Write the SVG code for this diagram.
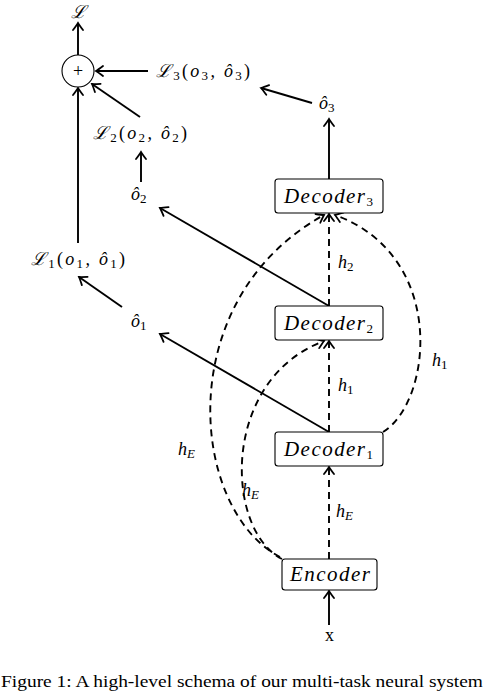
<svg xmlns="http://www.w3.org/2000/svg" width="484" height="694" viewBox="0 0 484 694">
<defs>
<style>
.ln{fill:none;stroke:#000;stroke-width:1.9}
.ds{fill:none;stroke:#000;stroke-width:1.9;stroke-dasharray:7 5}
.bx{fill:#fff;stroke:#000;stroke-width:1.1}
.m{font-family:"Liberation Serif","DejaVu Serif",serif;font-style:italic;font-size:18px;fill:#000}
.r{font-family:"Liberation Serif","DejaVu Serif",serif;font-style:normal;font-size:18px;fill:#000}
.s{font-family:"Liberation Serif","DejaVu Serif",serif;font-style:normal;font-size:13px}
.si{font-family:"Liberation Serif","DejaVu Serif",serif;font-style:italic;font-size:13px}
.big{font-family:"Liberation Serif","DejaVu Serif",serif;font-style:italic;font-size:21px;fill:#000}
.cap{font-family:"Liberation Serif",serif;font-size:17px;fill:#000}
</style>
<marker id="a" markerUnits="userSpaceOnUse" markerWidth="16" markerHeight="16" refX="0" refY="0" viewBox="-10 -8 12 16" orient="auto" overflow="visible">
<path d="M -7,-5 Q -2,-1.2 0,0 Q -2,1.2 -7,5" fill="none" stroke="#000" stroke-width="1.8" stroke-dasharray="none" stroke-linecap="round"/>
</marker>
</defs>
<g id="connectors">
<line class="ln" x1="78" y1="55" x2="78" y2="23" marker-end="url(#a)"/>
<line class="ln" x1="148" y1="71" x2="96" y2="71" marker-end="url(#a)"/>
<line class="ln" x1="140" y1="117" x2="92" y2="84" marker-end="url(#a)"/>
<line class="ln" x1="78" y1="243" x2="78" y2="88" marker-end="url(#a)"/>
<line class="ln" x1="141" y1="182" x2="141" y2="152" marker-end="url(#a)"/>
<line class="ln" x1="122" y1="307" x2="79" y2="277" marker-end="url(#a)"/>
<line class="ln" x1="312" y1="103" x2="261" y2="88" marker-end="url(#a)"/>
<line class="ln" x1="329" y1="179" x2="329" y2="119" marker-end="url(#a)"/>
<line class="ln" x1="329" y1="306" x2="160" y2="208" marker-end="url(#a)"/>
<line class="ln" x1="329" y1="432" x2="160" y2="334" marker-end="url(#a)"/>
<line class="ln" x1="329" y1="625" x2="329" y2="591" marker-end="url(#a)"/>
<line class="ds" x1="329" y1="559" x2="329" y2="467" marker-end="url(#a)"/>
<line class="ds" x1="329" y1="432" x2="329" y2="341" marker-end="url(#a)"/>
<line class="ds" x1="329" y1="306" x2="329" y2="214" marker-end="url(#a)"/>
<path class="ds" d="M 383,432 C 432,402 448,256 335,215" marker-end="url(#a)"/>
<path class="ds" d="M 280,557 C 190,510 170,300 324,215" marker-end="url(#a)"/>
<path class="ds" d="M 282,559 C 225,530 220,380 324,341" marker-end="url(#a)"/>
</g>
<g id="sum">
<circle cx="78" cy="71" r="16" fill="#fff" stroke="#000" stroke-width="1.1"/>
<text x="78" y="77" text-anchor="middle" class="r" font-size="16px">+</text>
</g>
<g id="L"><text x="78" y="18" text-anchor="middle" class="m">ℒ</text></g>
<g id="L3"><text x="156" y="77" class="m" textLength="94">ℒ<tspan class="s" dy="3">3</tspan><tspan class="r" dy="-3">(</tspan>o<tspan class="s" dy="3">3</tspan><tspan dy="-3">, ô</tspan><tspan class="s" dy="3">3</tspan><tspan class="r" dy="-3">)</tspan></text></g>
<g id="L2"><text x="93" y="139" class="m" textLength="94">ℒ<tspan class="s" dy="3">2</tspan><tspan class="r" dy="-3">(</tspan>o<tspan class="s" dy="3">2</tspan><tspan dy="-3">, ô</tspan><tspan class="s" dy="3">2</tspan><tspan class="r" dy="-3">)</tspan></text></g>
<g id="L1"><text x="31" y="265" class="m" textLength="94">ℒ<tspan class="s" dy="3">1</tspan><tspan class="r" dy="-3">(</tspan>o<tspan class="s" dy="3">1</tspan><tspan dy="-3">, ô</tspan><tspan class="s" dy="3">1</tspan><tspan class="r" dy="-3">)</tspan></text></g>
<g id="o3"><text x="319" y="109" class="m">ô<tspan class="s" dy="3">3</tspan></text></g>
<g id="o2"><text x="131" y="200" class="m">ô<tspan class="s" dy="3">2</tspan></text></g>
<g id="o1"><text x="131" y="327" class="m">ô<tspan class="s" dy="3">1</tspan></text></g>
<g id="decoder3">
<rect class="bx" x="275" y="179" width="108" height="34" rx="3"/>
<text x="284" y="203" class="big" textLength="89">Decoder<tspan class="s" font-size="14px" dy="3">3</tspan></text>
</g>
<g id="decoder2">
<rect class="bx" x="275" y="306" width="108" height="34" rx="3"/>
<text x="284" y="330" class="big" textLength="89">Decoder<tspan class="s" font-size="14px" dy="3">2</tspan></text>
</g>
<g id="decoder1">
<rect class="bx" x="275" y="432" width="108" height="34" rx="3"/>
<text x="284" y="456" class="big" textLength="89">Decoder<tspan class="s" font-size="14px" dy="3">1</tspan></text>
</g>
<g id="encoder">
<rect class="bx" x="282" y="559" width="95" height="31" rx="3"/>
<text x="290" y="581" class="big" textLength="80">Encoder</text>
</g>
<g id="labels">
<text x="338" y="268" class="m">h<tspan class="s" dy="3">2</tspan></text>
<text x="338" y="391" class="m">h<tspan class="s" dy="3">1</tspan></text>
<text x="432" y="366" class="m">h<tspan class="s" dy="3">1</tspan></text>
<text x="336" y="517" class="m">h<tspan class="si" dy="3">E</tspan></text>
<text x="242" y="496" class="m">h<tspan class="si" dy="3">E</tspan></text>
<text x="178" y="455" class="m">h<tspan class="si" dy="3">E</tspan></text>
<text x="329.5" y="641" text-anchor="middle" class="r" font-size="15px">x</text>
</g>
<text x="1" y="687" class="cap" textLength="482" lengthAdjust="spacingAndGlyphs">Figure 1: A high-level schema of our multi-task neural system</text>
</svg>
